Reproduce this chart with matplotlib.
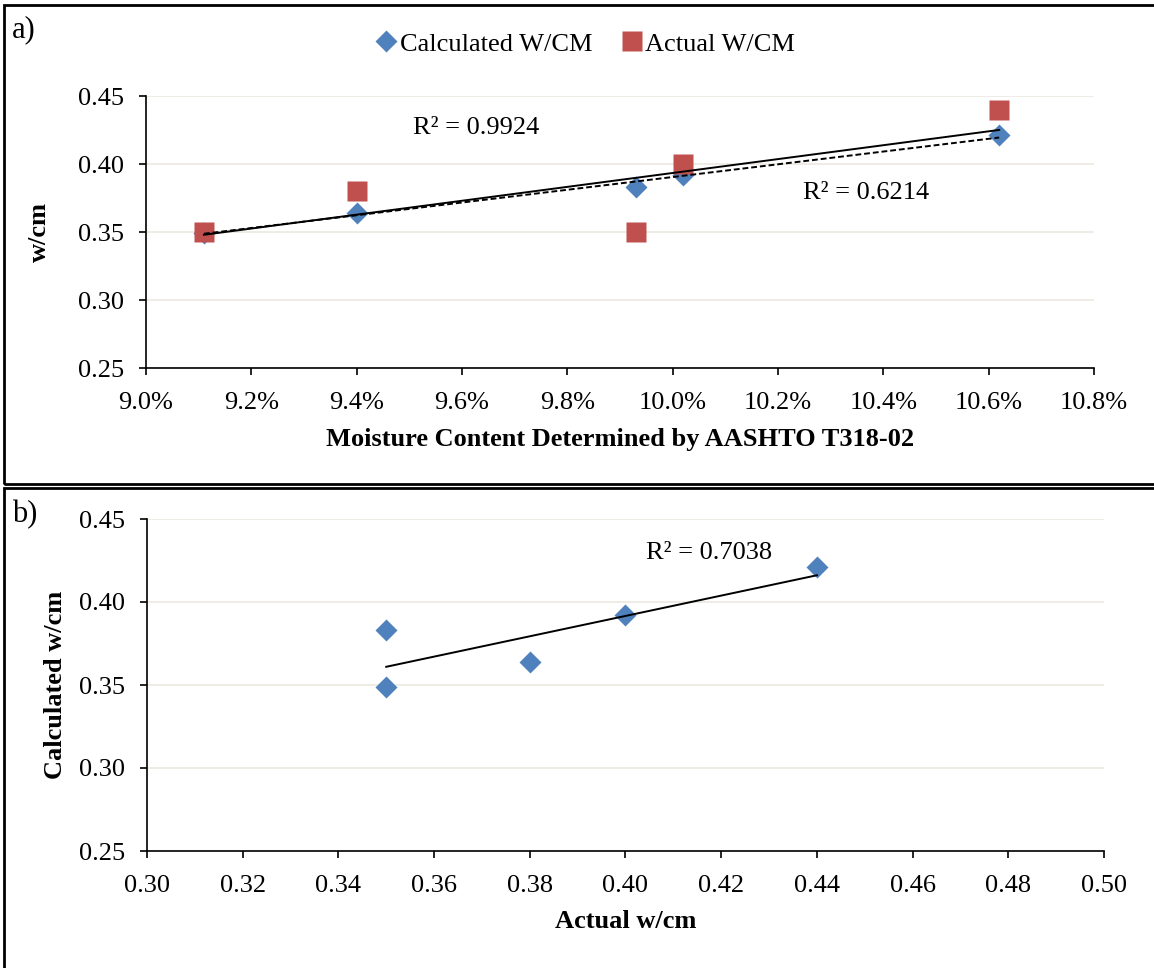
import matplotlib.pyplot as plt
import numpy as np
from matplotlib.patches import Rectangle
from matplotlib.ticker import PercentFormatter, FormatStrFormatter
from matplotlib.lines import Line2D

plt.rcParams['font.family'] = ['Liberation Serif', 'DejaVu Serif']
plt.rcParams['font.size'] = 19

# moisture content (fraction) by AASHTO T318-02
moisture = np.array([0.0911, 0.0940, 0.0993, 0.1002, 0.1062])
calc_wcm = np.array([0.349, 0.364, 0.383, 0.392, 0.421])
actual_wcm = np.array([0.35, 0.38, 0.35, 0.40, 0.44])

r2_labels_a = ['R² = 0.9924', 'R² = 0.6214']
r2_label_b = 'R² = 0.7038'

blue = '#4F81BD'
red = '#C0504D'
gridc = '#EDEBE2'

W, H = 1154, 968
fig = plt.figure(figsize=(W / 100, H / 100), dpi=100)

def px(x0, y0, x1, y1):
    # pixel box (left, top, right, bottom) -> figure rect
    return [x0 / W, 1 - y1 / H, (x1 - x0) / W, (y1 - y0) / H]

def style(ax):
    for s in ['top', 'right']:
        ax.spines[s].set_visible(False)
    for s in ['left', 'bottom']:
        ax.spines[s].set_linewidth(1.2)
    ax.tick_params(direction='out', length=5, width=1.2, labelsize=19)
    ax.tick_params(axis='x', pad=12)
    ax.tick_params(axis='y', pad=11)
    ax.grid(axis='y', color=gridc, lw=1.3)
    ax.set_axisbelow(True)

def fit(x, y):
    k, b = np.polyfit(x, y, 1)
    xs = np.array([x.min(), x.max()])
    return xs, k * xs + b

# --- panel a
ax1 = fig.add_axes(px(146, 96, 1094, 368))
style(ax1)
ax1.plot(moisture, calc_wcm, 'D', color=blue, ms=11.5, mec='none', zorder=3)
ax1.plot(moisture, actual_wcm, 's', color=red, ms=14.5, mec='none', zorder=3)
xs, ys = fit(moisture, actual_wcm)
ax1.plot(xs, ys, '-', color='black', lw=1.4, zorder=4)
xs, ys = fit(moisture, calc_wcm)
ax1.plot(xs, ys, '--', color='black', lw=1.4, dashes=(3, 1.5), zorder=4)
ax1.set_xlim(0.090, 0.108)
ax1.set_ylim(0.25, 0.45)
ax1.set_xticks(np.arange(0.090, 0.1081, 0.002))
ax1.set_yticks(np.arange(0.25, 0.451, 0.05))
ax1.xaxis.set_major_formatter(PercentFormatter(xmax=1, decimals=1))
ax1.yaxis.set_major_formatter(FormatStrFormatter('%.2f'))
ax1.set_xlabel('Moisture Content Determined by AASHTO T318-02', fontweight='bold', va='center')
ax1.set_ylabel('w/cm', fontweight='bold', va='center')
ax1.xaxis.set_label_coords(0.5, -0.262)
ax1.yaxis.set_label_coords(-0.112, 0.5)
ax1.text(0.09627, 0.4262, r2_labels_a[0], ha='center', va='center')
ax1.text(0.10368, 0.3785, r2_labels_a[1], ha='center', va='center')

handles = [Line2D([], [], ls='none', marker='D', color=blue, ms=11, mec='none'),
           Line2D([], [], ls='none', marker='s', color=red, ms=14, mec='none')]
fig.legend(handles, ['Calculated W/CM', 'Actual W/CM'], loc='center',
           bbox_to_anchor=(584 / W, 1 - 44 / H), ncol=2, frameon=False,
           handletextpad=0.0, columnspacing=1.0, handlelength=1.0, fontsize=19)

# --- panel b
ax2 = fig.add_axes(px(147, 519, 1104, 851))
style(ax2)
ax2.plot(actual_wcm, calc_wcm, 'D', color=blue, ms=11.5, mec='none', zorder=3)
xs, ys = fit(actual_wcm, calc_wcm)
ax2.plot(xs, ys, '-', color='black', lw=1.4, zorder=4)
ax2.set_xlim(0.30, 0.50)
ax2.set_ylim(0.25, 0.45)
ax2.set_xticks(np.arange(0.30, 0.501, 0.02))
ax2.set_yticks(np.arange(0.25, 0.451, 0.05))
ax2.xaxis.set_major_formatter(FormatStrFormatter('%.2f'))
ax2.yaxis.set_major_formatter(FormatStrFormatter('%.2f'))
ax2.set_xlabel('Actual w/cm', fontweight='bold', va='center')
ax2.set_ylabel('Calculated w/cm', fontweight='bold', va='center')
ax2.xaxis.set_label_coords(0.5, -0.212)
ax2.yaxis.set_label_coords(-0.096, 0.5)
ax2.text(0.4175, 0.4296, r2_label_b, ha='center', va='center')

# panel letters
fig.text(12 / W, 1 - 30 / H, 'a)', fontsize=22, va='center')
fig.text(12 / W, 1 - 515 / H, 'b)', fontsize=22, va='center')

# boxes around the panels
fig.patches.append(Rectangle((4 / W, 1 - 484 / H), 1.2, (484 - 5) / H,
                             transform=fig.transFigure, fill=False, ec='black', lw=2))
fig.patches.append(Rectangle((4 / W, -0.2), 1.2, 0.2 + (1 - 488 / H),
                             transform=fig.transFigure, fill=False, ec='black', lw=2))

fig.savefig('out.png', dpi=100)
